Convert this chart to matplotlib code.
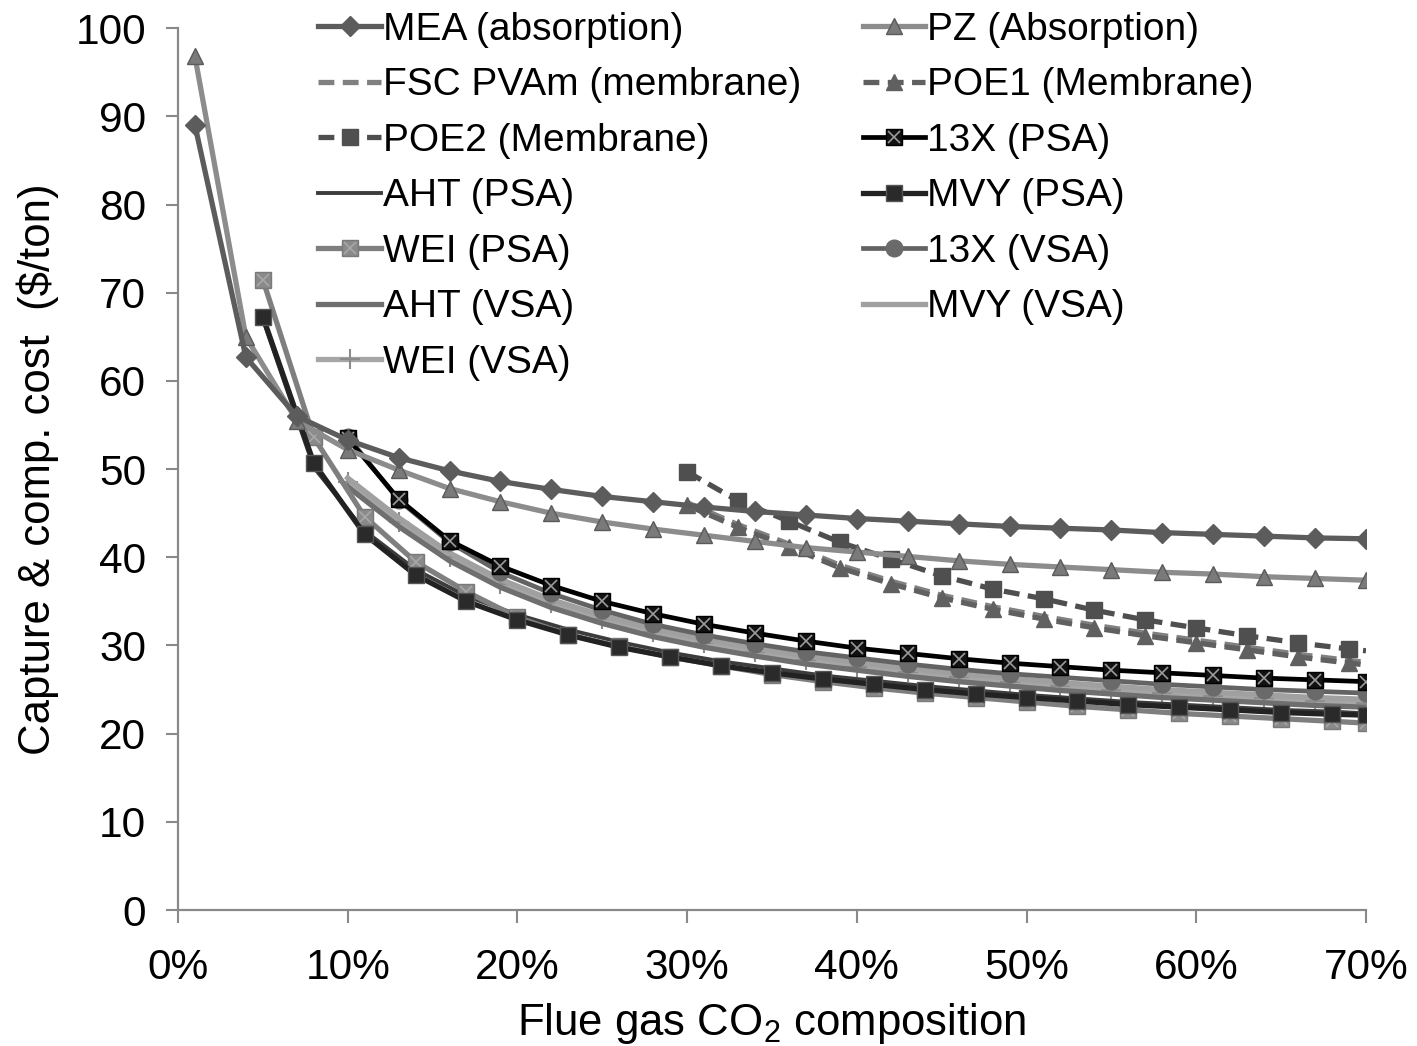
import matplotlib
matplotlib.use("Agg")
import matplotlib.pyplot as plt
from matplotlib.ticker import FuncFormatter

plt.rcParams['font.family'] = ['Liberation Sans', 'DejaVu Sans']
plt.rcParams['mathtext.fontset'] = 'custom'
plt.rcParams['mathtext.rm'] = 'Liberation Sans'

# flue gas CO2 composition (%), different grids per technology
x_abs = list(range(1, 71, 3))            # 1,4,...,70
x_mem = list(range(30, 70, 3)) + [70]    # 30,...,69,70
x_psa = list(range(5, 70, 3)) + [70]     # 5,...,68,70
x_vsa = list(range(10, 71, 3))           # 10,...,70

mea = [89.0, 62.7, 56.0, 53.3, 51.3, 49.8, 48.6, 47.7, 46.9, 46.3, 45.7, 45.2,
       44.8, 44.4, 44.1, 43.8, 43.5, 43.3, 43.1, 42.8, 42.6, 42.4, 42.2, 42.1]
pz = [96.8, 65.0, 55.5, 52.2, 49.9, 47.8, 46.3, 45.0, 44.0, 43.2, 42.5, 41.8,
      41.1, 40.6, 40.1, 39.6, 39.2, 38.9, 38.6, 38.3, 38.1, 37.8, 37.6, 37.4]

fsc_pvam = [46.2, 43.7, 41.5, 39.1, 37.3, 35.7, 34.4, 33.3, 32.3, 31.4, 30.6,
            29.8, 29.0, 28.3, 28.1]
poe1 = [45.9, 43.4, 41.2, 38.8, 37.0, 35.4, 34.1, 33.0, 32.0, 31.1, 30.3,
        29.5, 28.7, 28.0, 27.8]
poe2 = [49.7, 46.4, 44.1, 41.7, 39.8, 37.9, 36.4, 35.3, 34.0, 32.9, 32.0,
        31.1, 30.3, 29.6, 29.4]

x13_psa = [53.5, 46.6, 41.9, 39.0, 36.8, 35.0, 33.6, 32.4, 31.4, 30.5, 29.7,
           29.1, 28.5, 28.0, 27.6, 27.2, 26.9, 26.6, 26.3, 26.1, 25.9]
aht_psa = [67.0, 50.2, 43.0, 38.6, 35.6, 33.5, 31.8, 30.4, 29.2, 28.2, 27.4,
           26.6, 26.0, 25.4, 24.9, 24.4, 24.0, 23.6, 23.3, 23.0, 22.7, 22.5, 22.3]
mvy_psa = [67.3, 50.7, 42.6, 38.0, 35.0, 32.9, 31.2, 29.8, 28.7, 27.7, 26.9,
           26.2, 25.6, 25.0, 24.5, 24.1, 23.7, 23.3, 23.0, 22.7, 22.4, 22.2, 22.1]
wei_psa = [71.5, 53.6, 44.6, 39.5, 36.1, 33.2, 31.2, 29.9, 28.7, 27.7, 26.7,
           25.9, 25.2, 24.6, 24.1, 23.6, 23.1, 22.7, 22.3, 22.0, 21.7, 21.4, 21.2]

x13_vsa = [53.7, 46.5, 41.7, 38.3, 35.9, 34.0, 32.4, 31.2, 30.2, 29.3, 28.6,
           27.9, 27.3, 26.8, 26.4, 26.0, 25.6, 25.3, 25.0, 24.8, 24.6]
aht_vsa = [48.0, 43.5, 39.6, 36.6, 34.3, 32.5, 31.0, 29.8, 28.8, 27.9, 27.2,
           26.5, 25.9, 25.4, 24.9, 24.5, 24.1, 23.8, 23.5, 23.2, 23.0]
mvy_vsa = [49.0, 44.5, 40.5, 37.5, 35.2, 33.4, 31.9, 30.7, 29.7, 28.8, 28.1,
           27.4, 26.8, 26.3, 25.8, 25.4, 25.0, 24.7, 24.4, 24.1, 23.9]
wei_vsa = [48.5, 44.0, 40.0, 37.0, 34.8, 33.0, 31.5, 30.3, 29.3, 28.4, 27.6,
           27.0, 26.4, 25.9, 25.4, 25.0, 24.6, 24.3, 24.0, 23.7, 23.5]

fig = plt.figure(figsize=(14.17, 10.46), dpi=100)
ax = fig.add_axes([0.1256, 0.13, 0.8384, 0.843])

lw = 3.8
mem_marks = slice(0, -1)

h = {}
# adsorption, lower bundle first so the upper curves sit on top
h['wei_vsa'], = ax.plot(x_vsa, wei_vsa, color='#a6a6a6', lw=lw, marker='+', ms=14,
                        mew=1.5, mec='#8c8c8c', label='WEI (VSA)')
h['mvy_vsa'], = ax.plot(x_vsa, mvy_vsa, color='#a0a0a0', lw=lw, label='MVY (VSA)')
h['aht_vsa'], = ax.plot(x_vsa, aht_vsa, color='#6f6f6f', lw=lw, label='AHT (VSA)')
h['aht_psa'], = ax.plot(x_psa, aht_psa, color='#3c3c3c', lw=2.8, label='AHT (PSA)')
h['wei_psa'], = ax.plot(x_psa, wei_psa, color='#7f7f7f', lw=lw, marker='s', ms=11,
                        mfc='#8a8a8a', mec='#7a7a7a', label='WEI (PSA)')
wx, = ax.plot(x_psa, wei_psa, ls='none', marker='x', ms=9, mew=1.2, color='#a8a8a8')
h['mvy_psa'], = ax.plot(x_psa, mvy_psa, color='#222222', lw=lw, marker='s', ms=11,
                        mfc='#2a2a2a', mec='#555555', label='MVY (PSA)')
h['x13_vsa'], = ax.plot(x_vsa, x13_vsa, color='#636363', lw=3.4, marker='o', ms=12,
                        mfc='#6a6a6a', mec='#6a6a6a', label='13X (VSA)')
h['x13_psa'], = ax.plot(x_vsa, x13_psa, color='#000000', lw=3.4, marker='s', ms=11,
                        mfc='#111111', mec='#000000', label='13X (PSA)')
xx, = ax.plot(x_vsa, x13_psa, ls='none', marker='x', ms=9, mew=1.2, color='#9a9a9a')

# membranes
h['fsc'], = ax.plot(x_mem, fsc_pvam, color='#808080', lw=lw, ls=(0, (3, 1.6)),
                    markevery=mem_marks, label='FSC PVAm (membrane)')
h['poe1'], = ax.plot(x_mem, poe1, color='#606060', lw=lw, ls=(0, (3, 1.6)),
                     marker='^', ms=12, markevery=mem_marks, label='POE1 (Membrane)')
h['poe2'], = ax.plot(x_mem, poe2, color='#4f4f4f', lw=lw, ls=(0, (3, 1.6)),
                     marker='s', ms=12, markevery=mem_marks, label='POE2 (Membrane)')

# absorption
h['pz'], = ax.plot(x_abs, pz, color='#8c8c8c', lw=lw, marker='^', ms=12,
                   mfc='#7a7a7a', mec='#5a5a5a', label='PZ (Absorption)')
h['mea'], = ax.plot(x_abs, mea, color='#5c5c5c', lw=lw, marker='D', ms=10,
                    mfc='#5c5c5c', mec='#5c5c5c', label='MEA (absorption)')

ax.set_xlim(0, 70)
ax.set_ylim(0, 100)
ax.set_xticks(range(0, 71, 10))
ax.set_yticks(range(0, 101, 10))
ax.xaxis.set_major_formatter(FuncFormatter(lambda v, p: f"{int(v)}%"))
ax.tick_params(direction='out', length=9, width=1.5, color='#898989',
               labelsize=30.5)
ax.tick_params(axis='y', pad=14)
ax.tick_params(axis='x', pad=18)
for s in ['top', 'right']:
    ax.spines[s].set_visible(False)
for s in ['left', 'bottom']:
    ax.spines[s].set_color('#898989')
    ax.spines[s].set_linewidth(1.6)

ax.set_xlabel('Flue gas CO$_2$ composition', fontsize=31.5, labelpad=10)
ax.set_ylabel('Capture & comp. cost  ($/ton)', fontsize=31.5, labelpad=12)

col1 = ['mea', 'fsc', 'poe2', 'aht_psa', 'wei_psa', 'aht_vsa', 'wei_vsa']
col2 = ['pz', 'poe1', 'x13_psa', 'mvy_psa', 'x13_vsa', 'mvy_vsa']
handles = []
for k in col1 + col2:
    if k == 'x13_psa':
        handles.append((h[k], xx))
    elif k == 'wei_psa':
        handles.append((h[k], wx))
    else:
        handles.append(h[k])
labels = [h[k].get_label() for k in col1 + col2]
ax.legend(handles, labels, ncol=2, loc='upper left', bbox_to_anchor=(0.2, 1.022),
          bbox_transform=fig.transFigure, frameon=False, fontsize=28,
          handlelength=1.6, handletextpad=0.05, columnspacing=1.6,
          labelspacing=0.5, markerscale=1.0)

plt.savefig("out.png", dpi=100)
